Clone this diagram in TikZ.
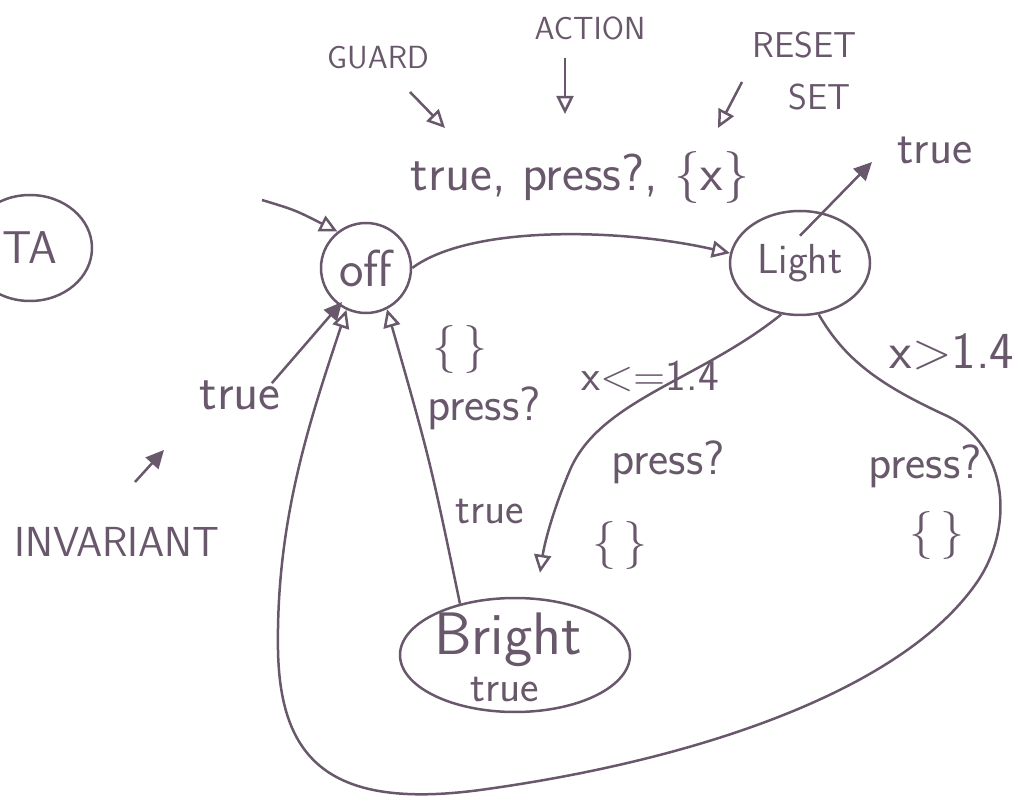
\documentclass[tikz,border=0pt]{standalone}
\usepackage{fontspec}
\usetikzlibrary{arrows.meta,shapes.geometric}
\definecolor{ink}{RGB}{105,88,108}
\newcommand{\fs}[1]{\fontsize{#1}{#1}\selectfont}
\begin{document}
\begin{tikzpicture}[x=1pt,y=-1pt,line width=2.5pt,
  every node/.style={text=ink,font=\sffamily,inner sep=0pt},
  st/.style={draw=ink,ellipse,line width=2.5pt,inner sep=0pt},
  ln/.style={draw=ink,line width=2.5pt},
  oh/.style={ln,-{Triangle[open,length=18pt,width=17pt,line width=2.5pt]}},
  fh/.style={ln,-{Triangle[length=18pt,width=17pt]}},
  lab/.style={font=\sffamily\fs{48}},
  caplab/.style={font=\sffamily\fs{32}}]
\useasboundingbox (0,0) rectangle (1021,802);
% states
\node[st,minimum width=124pt,minimum height=106pt,font=\sffamily\fs{46}] (TA) at (30,248) {TA};
\node[st,circle,minimum size=90pt,font=\sffamily\fs{52}] (off) at (366,268) {off};
\node[st,minimum width=140pt,minimum height=104pt,font=\sffamily\fs{42}] (Light) at (800,263) {Light};
\node[st,minimum width=230pt,minimum height=114pt] (Bright) at (515,655) {};
\node[font=\sffamily\fs{60}] (brtxt) at (508,640) {Bright};
\node[font=\sffamily\fs{44}] (brinv) at (505,690) {true};
% annotations
\node[caplab] (guard) at (378,58) {GUARD};
\node[caplab] (action) at (590,28) {ACTION};
\node[caplab,font=\sffamily\fs{36}] (reset) at (805,45) {RESET};
\node[caplab,font=\sffamily\fs{36}] (set) at (820,97) {SET};
\node[font=\sffamily\fs{42}] (invar) at (117,542) {INVARIANT};
\coordinate (g1) at (410,92); \coordinate (g2) at (445,128);
\coordinate (a1) at (565,58); \coordinate (a2) at (565,114);
\coordinate (r1) at (742,82); \coordinate (r2) at (718,128);
\coordinate (i1) at (135,482); \coordinate (i2) at (164,450);
\draw[oh] (g1) -- (g2);
\draw[oh] (a1) -- (a2);
\draw[oh] (r1) -- (r2);
\draw[fh] (i1) -- (i2);
% initial
\coordinate (init) at (262,200);
\draw[oh] (init) .. controls (295,210) .. (off.128);
% off -> Light
\draw[oh] (off.east) .. controls (470,225) and (620,228) .. (Light.172);
\node[lab,font=\sffamily\fs{52}] (l1) at (580,178) {true, press?, \{x\}};
% invariants
\coordinate (linv) at (872,162);
\draw[fh] ([yshift=-26pt]Light.north) -- (linv);
\node[lab] (linvtxt) at (935,150) {true};
\node[lab,font=\sffamily\fs{52}] (offinvtxt) at (240,395) {true};
\draw[fh] ([xshift=-10pt,yshift=-4pt]offinvtxt.north east) -- ([xshift=-24pt,yshift=-34pt]off.center);
% Bright -> off
\draw[oh] (Bright.137) .. controls (430,460) .. (off.297);
\node[lab] (b1) at (460,350) {\{\,\}};
\node[lab] (b2) at (484,408) {press?};
\node[lab,font=\sffamily\fs{44}] (b3) at (490,512) {true};
% Light -> Bright
\draw[oh] (Light.250) .. controls (700,380) and (600,400) .. (570,470)
  .. controls (555,505) and (545,540) .. ([xshift=25pt,yshift=24pt]Bright.north);
\node[lab,font=\sffamily\fs{44}] (c1) at (650,376) {x<=1.4};
\node[lab] (c2) at (668,462) {press?};
\node[lab] (c3) at (620,545) {\{\,\}};
% Light -> off (loop)
\draw[oh] (Light.290) .. controls (845,360) and (880,385) .. (945,415)
  .. controls (1010,445) and (1015,530) .. (975,585)
  .. controls (900,690) and (700,760) .. (480,790)
  .. controls (330,810) and (280,760) .. (278,650)
  .. controls (276,520) and (310,420) .. (off.245);
\node[lab,font=\sffamily\fs{52}] (d1) at (952,352) {x>1.4};
\node[lab] (d2) at (925,466) {press?};
\node[lab] (d3) at (937,535) {\{\,\}};
\end{tikzpicture}
\end{document}
